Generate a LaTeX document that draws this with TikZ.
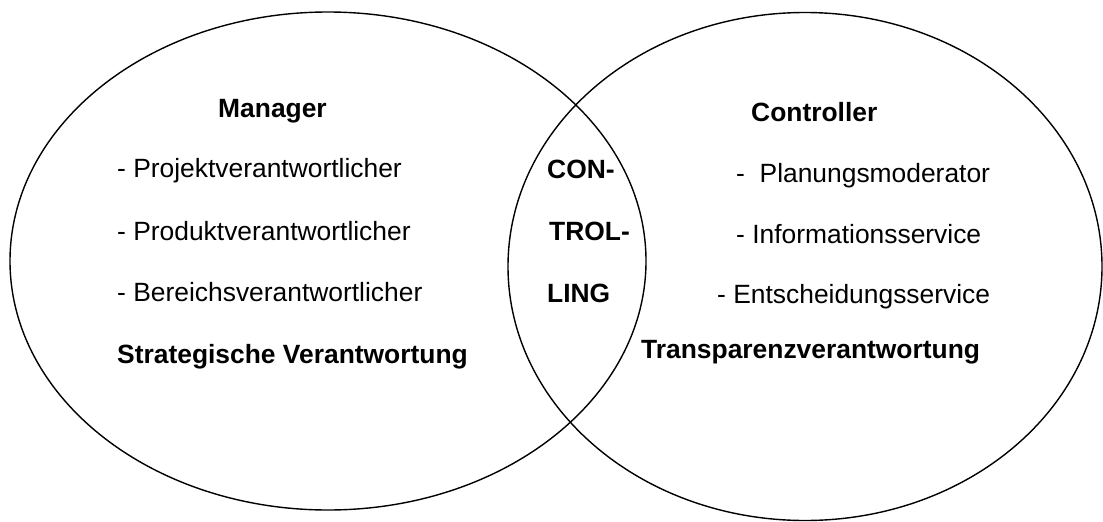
\documentclass[tikz,border=0pt]{standalone}
\usepackage{fontspec}
\setmainfont{Liberation Sans}
\usetikzlibrary{shapes.geometric}

\tikzset{
  role/.style={draw=black, line width=1.4pt, ellipse, inner sep=0pt},
  item/.style={anchor=base west, inner sep=0pt,
    font=\fontsize{26.4}{31}\selectfont},
  head/.style={item, font=\fontsize{26.4}{31}\selectfont\bfseries},
}

\begin{document}
\begin{tikzpicture}[x=1pt, y=-1pt]
  \useasboundingbox (0,0) rectangle (1103,522);

  % the two overlapping roles
  \node[role, minimum width=636pt, minimum height=498pt] (manager) at (328,261) {};
  \node[role, minimum width=594pt, minimum height=508pt] (controller) at (805,266.5) {};

  % manager side
  \node[head] (mtitle) at (218,117) {Manager};
  \node[item] (m1) at (117,177) {- Projektverantwortlicher};
  \node[item] (m2) at (117,240) {- Produktverantwortlicher};
  \node[item] (m3) at (117,301) {- Bereichsverantwortlicher};
  \node[head] (mresp) at (117,363) {Strategische Verantwortung};

  % shared part
  \node[head] (c1) at (547,178) {CON-};
  \node[head] (c2) at (549,240) {TROL-};
  \node[head] (c3) at (547,302) {LING};

  % controller side
  \node[head] (ctitle) at (751,121) {Controller};
  \node[item] (k1) at (736,182) {-~ Planungsmoderator};
  \node[item] (k2) at (736,243) {- Informationsservice};
  \node[item] (k3) at (717,303) {- Entscheidungsservice};
  \node[head] (kresp) at (641,358) {Transparenzverantwortung};
\end{tikzpicture}
\end{document}
